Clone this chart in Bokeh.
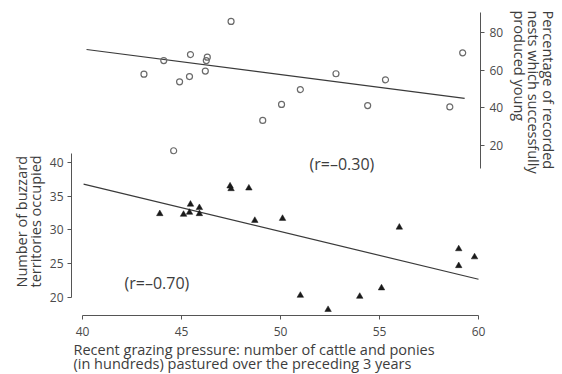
from bokeh.plotting import figure
from bokeh.models import Range1d, LinearAxis, FixedTicker, Label, Title
from bokeh.embed import file_html
from bokeh.resources import INLINE

# ---- data ----
grazing_buzz = [43.9, 45.1, 45.4, 45.45, 45.9, 45.9, 47.45, 47.5, 48.4, 48.7,
                50.1, 51.0, 52.4, 54.0, 55.1, 56.0, 59.0, 59.8, 59.0]
buzzard_territories = [32.4, 32.3, 32.6, 33.8, 33.3, 32.4, 36.5, 36.1, 36.2, 31.4,
                       31.7, 20.3, 18.2, 20.15, 21.4, 30.4, 27.2, 26.0, 24.7]
grazing_nest = [43.1, 44.1, 44.6, 44.9, 45.4, 45.45, 46.2, 46.25, 46.3, 47.5,
                49.1, 50.05, 51.0, 52.8, 54.4, 55.3, 58.55, 59.2]
nest_success = [57.9, 65.1, 17.2, 53.8, 56.6, 68.3, 59.5, 65.1, 66.9, 85.9,
                33.3, 41.8, 49.7, 58.1, 41.2, 54.9, 40.5, 69.2]
fit_buzz_x = [40.05, 60.0]
fit_buzz_y = [36.8, 22.7]
fit_nest_x = [40.2, 59.3]
fit_nest_y = [71.0, 45.0]
x_ticks = [40, 45, 50, 55, 60]
left_ticks = [20, 25, 30, 35, 40]
right_ticks = [20, 40, 60, 80]
x_title = ["Recent grazing pressure: number of cattle and ponies",
           "(in hundreds) pastured over the preceding 3 years"]
left_title = ["Number of buzzard", "territories occupied"]
right_title = ["Percentage of recorded", "nests which successfully", "produced young"]

FONT = "Open Sans"
TXT = "#3d3d3d"
AX = "#555555"

W, H = 562, 374
FL, FR, FT, FB = 71, 480, 10, 315  # frame edges in picture pixels
p = figure(width=W, height=H, output_backend="svg", toolbar_location=None,
           x_range=Range1d(39.44, 60.10), y_range=Range1d(17.33, 62.52),
           min_border_left=FL, min_border_right=W - FR, min_border_top=FT,
           min_border_bottom=H - FB,
           x_axis_location=None, y_axis_location=None)
p.outline_line_color = None
p.xgrid.visible = False
p.ygrid.visible = False
p.background_fill_color = "white"
p.extra_y_ranges = {"nest": Range1d(-70.3, 91.7)}

def style(ax):
    ax.axis_line_color = AX
    ax.major_tick_line_color = AX
    ax.major_tick_out = 4
    ax.major_tick_in = 0
    ax.minor_tick_line_color = None
    ax.major_label_text_font = FONT
    ax.major_label_text_font_size = "12px"
    ax.major_label_text_color = "#4a4a4a"
    ax.axis_line_width = 1

xa = LinearAxis(ticker=FixedTicker(ticks=x_ticks), bounds=(40, 60))
style(xa)
xa.major_label_standoff = 7
p.add_layout(xa, "below")

ya = LinearAxis(ticker=FixedTicker(ticks=left_ticks), bounds=(20, 41.3))
style(ya)
ya.major_label_standoff = 4
p.add_layout(ya, "left")

ra = LinearAxis(y_range_name="nest", ticker=FixedTicker(ticks=right_ticks), bounds=(7.8, 90.6))
style(ra)
ra.major_label_standoff = 5
p.add_layout(ra, "right")

def title(lines, side, offset, standoff, lh):
    t = Title(text="\n".join(lines), align="left", offset=offset, standoff=standoff,
              text_font=FONT, text_font_size="14.5px", text_font_style="normal",
              text_color=TXT, text_line_height=lh)
    p.add_layout(t, side)

title(x_title, "below", 2, 0, 0.74)
title(left_title, "left", 28, 3, 0.72)
title(right_title, "right", 0, 6, 0.77)

# fits
p.line(fit_buzz_x, fit_buzz_y, line_color="#3a3a3a", line_width=1.2)
p.line(fit_nest_x, fit_nest_y, line_color="#3a3a3a", line_width=1.2, y_range_name="nest")

# points
p.scatter(grazing_nest, nest_success, marker="circle", size=6, fill_color=None,
          line_color="#6a6a6a", line_width=1.2, y_range_name="nest")
p.scatter(grazing_buzz, buzzard_territories, marker="triangle", size=6.5,
          fill_color="#1a1a1a", line_color="#1a1a1a", line_width=0.5)

def lab(text, px, py, size="16px"):
    # px, py: picture pixels; screen units are relative to the frame's bottom-left
    p.add_layout(Label(x=px - FL, y=FB - py, x_units="screen", y_units="screen", text=text,
                       text_align="left", text_baseline="middle",
                       text_font=FONT, text_font_size=size, text_color=TXT))

lab("(r=\u20130.30)", 309, 163)
lab("(r=\u20130.70)", 124, 282)

open("out.html", "w").write(file_html(p, INLINE))
